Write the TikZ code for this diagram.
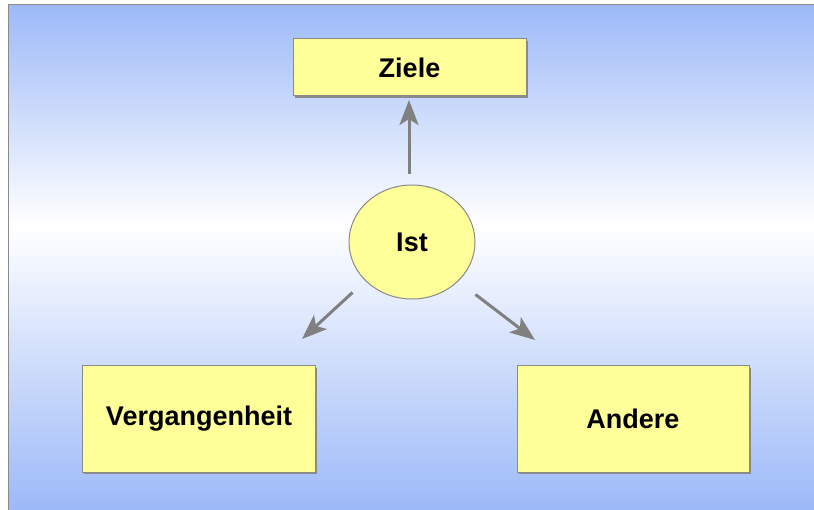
\documentclass[tikz,border=0pt]{standalone}
\usepackage{fontspec}
\setmainfont{Liberation Sans}
\usetikzlibrary{arrows.meta,shapes.geometric,shadows}
\definecolor{bgblue}{HTML}{9CB9F8}
\definecolor{boxyellow}{HTML}{FFFF99}
\definecolor{edgegray}{HTML}{8A8A8A}
\definecolor{arrowgray}{HTML}{808080}
\tikzset{
  boxnode/.style={draw=edgegray, line width=1pt, fill=boxyellow, inner sep=0pt,
    font=\fontsize{27}{30}\selectfont\bfseries,
    drop shadow={shadow xshift=1.8pt, shadow yshift=-1.8pt, fill=edgegray, opacity=1}},
  ellnode/.style={ellipse, draw=edgegray, line width=1pt, fill=boxyellow, inner sep=0pt,
    font=\fontsize{27}{30}\selectfont\bfseries},
  conn/.style={draw=arrowgray, line width=3pt,
    -{Stealth[length=25pt, width=19pt, inset=6pt]}}
}
\begin{document}
\begin{tikzpicture}[x=1pt,y=-1pt]
\useasboundingbox (0,0) rectangle (814,510);
\fill[white] (0,0) rectangle (814,510);
% background gradient
\shade[top color=bgblue, bottom color=white] (8.5,4.5) rectangle (814,225);
\shade[top color=white, bottom color=bgblue] (8.5,225) rectangle (814,510);
\draw[edgegray, line width=1.5pt] (8.5,510) -- (8.5,4.5) -- (814,4.5);
% nodes
\node[boxnode, minimum width=233pt, minimum height=57pt] (ziele) at (409.5,67.5) {Ziele};
\node[ellnode, minimum width=126pt, minimum height=114pt] (ist) at (412,242) {Ist};
\node[boxnode, minimum width=233pt, minimum height=106pt] (verg) at (199,419) {Vergangenheit};
\node[boxnode, minimum width=232pt, minimum height=106pt] (andere) at (633,419) {Andere};
% connector end points
\coordinate (a1s) at (409,174);
\coordinate (a1e) at (409,100);
\coordinate (a2s) at (352.5,292.5);
\coordinate (a2e) at (302,339);
\coordinate (a3s) at (475.5,294.5);
\coordinate (a3e) at (535,340);
\draw[conn] (a1s) -- (a1e);
\draw[conn] (a2s) -- (a2e);
\draw[conn] (a3s) -- (a3e);
\end{tikzpicture}
\end{document}
